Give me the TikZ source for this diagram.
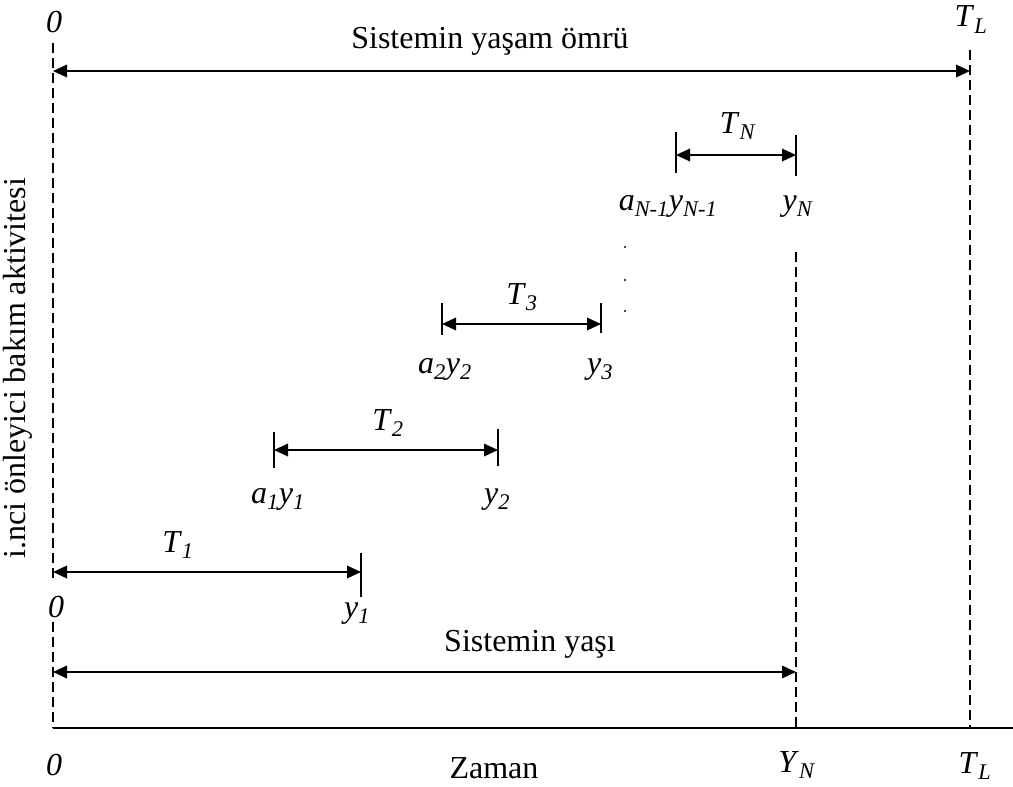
\documentclass[tikz,border=0pt]{standalone}
\usepackage{fontspec}
\setmainfont{Liberation Serif}
\usetikzlibrary{arrows.meta}
\newcommand{\sublab}[2]{\textit{#1}\textsubscript{\textit{#2}}}
\begin{document}
\begin{tikzpicture}[x=1pt,y=-1pt,
  every node/.style={font=\fontsize{32}{38}\selectfont, inner sep=0pt},
  lbl/.style={anchor=base},
  dimarrow/.style={line width=1.8pt, {Triangle[length=14pt,width=12.5pt]}-{Triangle[length=14pt,width=12.5pt]}},
  guide/.style={line width=1.4pt, dash pattern=on 10pt off 5pt},
  tickline/.style={line width=1.8pt},
  axisline/.style={line width=1.9pt},
  dot/.style={circle, fill=black, minimum size=2.2pt, inner sep=0pt}]
\useasboundingbox (0,0) rectangle (1013,787);

% guide coordinates
\coordinate (L0top) at (53,43);
\coordinate (L0mid) at (53,580);
\coordinate (L0low) at (53,622);
\coordinate (L0bot) at (53,728);
\coordinate (TLtop) at (970,50);
\coordinate (TLbot) at (970,728);
\coordinate (YNtop) at (796,252);
\coordinate (YNbot) at (796,728);
\coordinate (axR) at (1013,728);

% dashed guides and axis
\draw[guide] (L0top) -- (L0mid);
\draw[guide] (L0low) -- (L0bot);
\draw[guide] (TLtop) -- (TLbot);
\draw[guide] (YNtop) -- (YNbot);
\draw[axisline] (L0bot) -- (axR);

% life arrow
\coordinate (lifeL) at (53,71);
\coordinate (lifeR) at (970,71);
\draw[dimarrow] (lifeL) -- (lifeR);

% age arrow
\coordinate (ageL) at (53,672);
\coordinate (ageR) at (796,672);
\draw[dimarrow] (ageL) -- (ageR);

% T1
\coordinate (t1L) at (53,572);
\coordinate (t1R) at (361,572);
\coordinate (t1Ra) at (361,553);
\coordinate (t1Rb) at (361,597);
\draw[dimarrow] (t1L) -- (t1R);
\draw[tickline] (t1Ra) -- (t1Rb);

% T2
\coordinate (t2L) at (274,450);
\coordinate (t2R) at (498,450);
\coordinate (t2La) at (274,432);
\coordinate (t2Lb) at (274,468);
\coordinate (t2Ra) at (498,429);
\coordinate (t2Rb) at (498,466);
\draw[dimarrow] (t2L) -- (t2R);
\draw[tickline] (t2La) -- (t2Lb);
\draw[tickline] (t2Ra) -- (t2Rb);

% T3
\coordinate (t3L) at (442,324);
\coordinate (t3R) at (601,324);
\coordinate (t3La) at (442,303);
\coordinate (t3Lb) at (442,335);
\coordinate (t3Ra) at (601,303);
\coordinate (t3Rb) at (601,333);
\draw[dimarrow] (t3L) -- (t3R);
\draw[tickline] (t3La) -- (t3Lb);
\draw[tickline] (t3Ra) -- (t3Rb);

% TN
\coordinate (tNL) at (676,155);
\coordinate (tNR) at (796,155);
\coordinate (tNLa) at (676,132);
\coordinate (tNLb) at (676,173);
\coordinate (tNRa) at (796,135);
\coordinate (tNRb) at (796,176);
\draw[dimarrow] (tNL) -- (tNR);
\draw[tickline] (tNLa) -- (tNLb);
\draw[tickline] (tNRa) -- (tNRb);

% dots
\node[dot] (d1) at (625,247) {};
\node[dot] (d2) at (625,280) {};
\node[dot] (d3) at (625,311) {};

% labels
\node[lbl] (zeroTop) at (54,32) {\textit{0}};
\node[lbl] (TLtopLab) at (971,27) {\sublab{T}{L}};
\node[lbl] (life) at (490,48) {Sistemin yaşam ömrü};
\node[lbl] (TNlab) at (738,133) {\sublab{T}{N}};
\node[lbl] (aNlab) at (668,210) {\sublab{a}{N-1}\sublab{y}{N-1}};
\node[lbl] (yNlab) at (798,210) {\sublab{y}{N}};
\node[lbl] (T3lab) at (522,304) {\sublab{T}{3}};
\node[lbl] (a2lab) at (445,373) {\sublab{a}{2}\sublab{y}{2}};
\node[lbl] (y3lab) at (600,373) {\sublab{y}{3}};
\node[lbl] (T2lab) at (388,430) {\sublab{T}{2}};
\node[lbl] (a1lab) at (278,503) {\sublab{a}{1}\sublab{y}{1}};
\node[lbl] (y2lab) at (497,503) {\sublab{y}{2}};
\node[lbl] (T1lab) at (178,552) {\sublab{T}{1}};
\node[lbl] (zeroMid) at (56,617) {\textit{0}};
\node[lbl] (y1lab) at (357,617) {\sublab{y}{1}};
\node[lbl] (age) at (530,651) {Sistemin yaşı};
\node[lbl] (zeroBot) at (54,775) {\textit{0}};
\node[lbl] (zaman) at (494,778) {Zaman};
\node[lbl] (YNbotLab) at (797,772) {\sublab{Y}{N}};
\node[lbl] (TLbotLab) at (975,773) {\sublab{T}{L}};
\node[rotate=90] (ylab) at (18,368) {i.nci önleyici bakım aktivitesi};
\end{tikzpicture}
\end{document}
